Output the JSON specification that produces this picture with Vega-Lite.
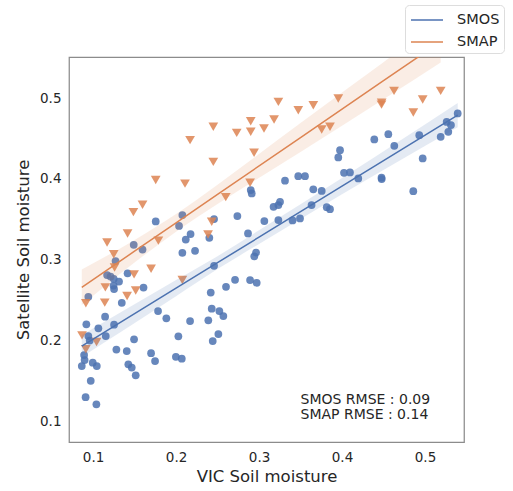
{
  "$schema": "https://vega.github.io/schema/vega-lite/v6.json",
  "width": 395,
  "height": 385,
  "autosize": {"type": "none"},
  "padding": {"left": 69, "top": 57, "right": 49, "bottom": 49},
  "title": {"text": "Camboida", "fontSize": 16, "fontWeight": "normal", "color": "#262626", "offset": 3, "font": "DejaVu Sans"},
  "datasets": {
    "pts": [
      {"s":"SMOS","x":0.0943,"y":0.2539},{"s":"SMOS","x":0.1247,"y":0.2678},{"s":"SMOS","x":0.1253,"y":0.2635},
      {"s":"SMOS","x":0.1346,"y":0.2465},{"s":"SMOS","x":0.1145,"y":0.2292},{"s":"SMOS","x":0.0919,"y":0.2198},
      {"s":"SMOS","x":0.1064,"y":0.2148},{"s":"SMOS","x":0.1253,"y":0.2193},{"s":"SMOS","x":0.1153,"y":0.2053},
      {"s":"SMOS","x":0.0943,"y":0.2053},{"s":"SMOS","x":0.0960,"y":0.1997},{"s":"SMOS","x":0.1494,"y":0.2012},
      {"s":"SMOS","x":0.1783,"y":0.2362},{"s":"SMOS","x":0.1883,"y":0.2272},{"s":"SMOS","x":0.2169,"y":0.2238},
      {"s":"SMOS","x":0.2028,"y":0.2050},{"s":"SMOS","x":0.1281,"y":0.1885},{"s":"SMOS","x":0.1406,"y":0.1867},
      {"s":"SMOS","x":0.1699,"y":0.1840},{"s":"SMOS","x":0.1747,"y":0.1743},{"s":"SMOS","x":0.1998,"y":0.1796},
      {"s":"SMOS","x":0.2069,"y":0.1772},{"s":"SMOS","x":0.0892,"y":0.1817},{"s":"SMOS","x":0.0898,"y":0.1755},
      {"s":"SMOS","x":0.0864,"y":0.1681},{"s":"SMOS","x":0.0996,"y":0.1722},{"s":"SMOS","x":0.1045,"y":0.1681},
      {"s":"SMOS","x":0.1425,"y":0.1703},{"s":"SMOS","x":0.1466,"y":0.1663},{"s":"SMOS","x":0.1514,"y":0.1566},
      {"s":"SMOS","x":0.0972,"y":0.1498},{"s":"SMOS","x":0.0910,"y":0.1295},{"s":"SMOS","x":0.1040,"y":0.1207},
      {"s":"SMOS","x":0.2418,"y":0.2591},{"s":"SMOS","x":0.2602,"y":0.2663},{"s":"SMOS","x":0.2711,"y":0.2750},
      {"s":"SMOS","x":0.2892,"y":0.2746},{"s":"SMOS","x":0.2972,"y":0.2713},{"s":"SMOS","x":0.2943,"y":0.3040},
      {"s":"SMOS","x":0.2964,"y":0.3087},{"s":"SMOS","x":0.2458,"y":0.2923},{"s":"SMOS","x":0.2430,"y":0.2391},
      {"s":"SMOS","x":0.2522,"y":0.2362},{"s":"SMOS","x":0.2570,"y":0.2300},{"s":"SMOS","x":0.2389,"y":0.2247},
      {"s":"SMOS","x":0.2510,"y":0.2077},{"s":"SMOS","x":0.2442,"y":0.1991},{"s":"SMOS","x":0.2229,"y":0.3109},
      {"s":"SMOS","x":0.2175,"y":0.3316},{"s":"SMOS","x":0.2117,"y":0.3248},{"s":"SMOS","x":0.2076,"y":0.3084},
      {"s":"SMOS","x":0.2036,"y":0.3417},{"s":"SMOS","x":0.2076,"y":0.3551},{"s":"SMOS","x":0.1755,"y":0.3473},
      {"s":"SMOS","x":0.1490,"y":0.3183},{"s":"SMOS","x":0.1596,"y":0.3124},{"s":"SMOS","x":0.1271,"y":0.2981},
      {"s":"SMOS","x":0.1169,"y":0.2808},{"s":"SMOS","x":0.1211,"y":0.2790},{"s":"SMOS","x":0.1249,"y":0.2762},
      {"s":"SMOS","x":0.1313,"y":0.2728},{"s":"SMOS","x":0.1416,"y":0.2830},{"s":"SMOS","x":0.1608,"y":0.2653},
      {"s":"SMOS","x":0.2458,"y":0.3502},{"s":"SMOS","x":0.2739,"y":0.3539},{"s":"SMOS","x":0.2900,"y":0.3861},
      {"s":"SMOS","x":0.2912,"y":0.3820},{"s":"SMOS","x":0.2867,"y":0.3324},{"s":"SMOS","x":0.2401,"y":0.3270},
      {"s":"SMOS","x":0.3064,"y":0.3477},{"s":"SMOS","x":0.3233,"y":0.3489},{"s":"SMOS","x":0.3404,"y":0.3485},
      {"s":"SMOS","x":0.3494,"y":0.3510},{"s":"SMOS","x":0.3175,"y":0.3654},{"s":"SMOS","x":0.3233,"y":0.3675},
      {"s":"SMOS","x":0.3253,"y":0.3716},{"s":"SMOS","x":0.3313,"y":0.3978},{"s":"SMOS","x":0.3473,"y":0.4034},
      {"s":"SMOS","x":0.3554,"y":0.4034},{"s":"SMOS","x":0.3654,"y":0.3871},{"s":"SMOS","x":0.3755,"y":0.3851},
      {"s":"SMOS","x":0.3633,"y":0.3675},{"s":"SMOS","x":0.3816,"y":0.3650},{"s":"SMOS","x":0.3855,"y":0.3625},
      {"s":"SMOS","x":0.4024,"y":0.4075},{"s":"SMOS","x":0.4096,"y":0.4080},{"s":"SMOS","x":0.4196,"y":0.4006},
      {"s":"SMOS","x":0.4476,"y":0.4015},{"s":"SMOS","x":0.4478,"y":0.3997},{"s":"SMOS","x":0.3976,"y":0.4356},
      {"s":"SMOS","x":0.3955,"y":0.4266},{"s":"SMOS","x":0.4389,"y":0.4489},{"s":"SMOS","x":0.4558,"y":0.4554},
      {"s":"SMOS","x":0.4630,"y":0.4409},{"s":"SMOS","x":0.4931,"y":0.4542},{"s":"SMOS","x":0.4972,"y":0.4253},
      {"s":"SMOS","x":0.4859,"y":0.3848},{"s":"SMOS","x":0.5189,"y":0.4521},{"s":"SMOS","x":0.5281,"y":0.4583},
      {"s":"SMOS","x":0.5261,"y":0.4706},{"s":"SMOS","x":0.5313,"y":0.4666},{"s":"SMOS","x":0.5394,"y":0.4811},
      {"s":"SMAP","x":0.1755,"y":0.3985},{"s":"SMAP","x":0.2108,"y":0.3941},{"s":"SMAP","x":0.1596,"y":0.3679},
      {"s":"SMAP","x":0.1486,"y":0.3588},{"s":"SMAP","x":0.1416,"y":0.3324},{"s":"SMAP","x":0.1169,"y":0.3211},
      {"s":"SMAP","x":0.1249,"y":0.3066},{"s":"SMAP","x":0.1259,"y":0.2901},{"s":"SMAP","x":0.1494,"y":0.2817},
      {"s":"SMAP","x":0.1699,"y":0.2886},{"s":"SMAP","x":0.1787,"y":0.3235},{"s":"SMAP","x":0.1148,"y":0.2656},
      {"s":"SMAP","x":0.1410,"y":0.2550},{"s":"SMAP","x":0.1514,"y":0.2616},{"s":"SMAP","x":0.0913,"y":0.2458},
      {"s":"SMAP","x":0.1141,"y":0.2467},{"s":"SMAP","x":0.0867,"y":0.2061},{"s":"SMAP","x":0.1042,"y":0.1978},
      {"s":"SMAP","x":0.0913,"y":0.1889},{"s":"SMAP","x":0.2076,"y":0.2746},{"s":"SMAP","x":0.2169,"y":0.4480},
      {"s":"SMAP","x":0.2449,"y":0.4645},{"s":"SMAP","x":0.2449,"y":0.4211},{"s":"SMAP","x":0.2731,"y":0.4570},
      {"s":"SMAP","x":0.2900,"y":0.4715},{"s":"SMAP","x":0.2900,"y":0.4583},{"s":"SMAP","x":0.2940,"y":0.4323},
      {"s":"SMAP","x":0.2892,"y":0.3951},{"s":"SMAP","x":0.2599,"y":0.3774},{"s":"SMAP","x":0.2430,"y":0.3468},
      {"s":"SMAP","x":0.2386,"y":0.3310},{"s":"SMAP","x":0.3060,"y":0.4625},{"s":"SMAP","x":0.3181,"y":0.4736},
      {"s":"SMAP","x":0.3233,"y":0.4954},{"s":"SMAP","x":0.3473,"y":0.4851},{"s":"SMAP","x":0.3654,"y":0.4913},
      {"s":"SMAP","x":0.3955,"y":0.4996},{"s":"SMAP","x":0.3755,"y":0.4612},{"s":"SMAP","x":0.3855,"y":0.4645},
      {"s":"SMAP","x":0.4478,"y":0.4942},{"s":"SMAP","x":0.4476,"y":0.4920},{"s":"SMAP","x":0.4627,"y":0.5090},
      {"s":"SMAP","x":0.4972,"y":0.4984},{"s":"SMAP","x":0.4859,"y":0.4823},{"s":"SMAP","x":0.5189,"y":0.5090}
    ],
    "fit": [
      {"s":"SMOS","x":0.0864,"y":0.1929,"lo":0.1793,"hi":0.2065},
      {"s":"SMOS","x":0.2,"y":0.2646,"lo":0.2546,"hi":0.2746},
      {"s":"SMOS","x":0.25,"y":0.2962,"lo":0.2882,"hi":0.3042},
      {"s":"SMOS","x":0.3,"y":0.3278,"lo":0.3193,"hi":0.3363},
      {"s":"SMOS","x":0.4,"y":0.3910,"lo":0.3810,"hi":0.4010},
      {"s":"SMOS","x":0.5394,"y":0.4790,"lo":0.4640,"hi":0.4940},
      {"s":"SMAP","x":0.0864,"y":0.2656,"lo":0.2436,"hi":0.2876},
      {"s":"SMAP","x":0.15,"y":0.3104,"lo":0.2964,"hi":0.3244},
      {"s":"SMAP","x":0.2,"y":0.3456,"lo":0.3346,"hi":0.3566},
      {"s":"SMAP","x":0.25,"y":0.3808,"lo":0.3688,"hi":0.3928},
      {"s":"SMAP","x":0.35,"y":0.4512,"lo":0.4332,"hi":0.4692},
      {"s":"SMAP","x":0.45,"y":0.5216,"lo":0.4986,"hi":0.5446},
      {"s":"SMAP","x":0.5189,"y":0.5701,"lo":0.5441,"hi":0.5961}
    ],
    "notes": [
      {"x":0.35,"y":0.126,"t":"SMOS RMSE : 0.09"},
      {"x":0.35,"y":0.1074,"t":"SMAP RMSE : 0.14"}
    ]
  },
  "encoding": {
    "x": {"field": "x", "type": "quantitative", "scale": {"domain": [0.071, 0.547], "nice": false, "zero": false},
          "axis": {"title": "VIC Soil moisture", "values": [0.1, 0.2, 0.3, 0.4, 0.5], "format": ".1f"}},
    "y": {"field": "y", "type": "quantitative", "scale": {"domain": [0.074, 0.551], "nice": false, "zero": false},
          "axis": {"title": "Satellite Soil moisture", "values": [0.1, 0.2, 0.3, 0.4, 0.5], "format": ".1f"}}
  },
  "layer": [
    {
      "data": {"name": "pts"},
      "mark": {"type": "point", "filled": true, "opacity": 0.85, "strokeWidth": 0},
      "encoding": {
        "color": {"field": "s", "type": "nominal", "scale": {"domain": ["SMOS", "SMAP"], "range": ["#4C72B0", "#DD8452"]}, "legend": null},
        "shape": {"field": "s", "type": "nominal", "scale": {"domain": ["SMOS", "SMAP"], "range": ["circle", "triangle-down"]}, "legend": null},
        "size": {"field": "s", "type": "nominal", "scale": {"domain": ["SMOS", "SMAP"], "range": [60, 95]}, "legend": null}
      }
    },
    {
      "data": {"name": "fit"},
      "mark": {"type": "area", "opacity": 0.15, "clip": true, "interpolate": "monotone"},
      "encoding": {
        "y": {"field": "lo", "type": "quantitative"},
        "y2": {"field": "hi"},
        "color": {"field": "s", "type": "nominal", "legend": null}
      }
    },
    {
      "data": {"name": "fit"},
      "mark": {"type": "line", "strokeWidth": 1.5, "clip": true},
      "encoding": {
        "color": {"field": "s", "type": "nominal",
          "legend": {"title": null, "orient": "none", "legendX": 336, "legendY": -52,
            "symbolType": "M-0.9,0H2.3", "symbolSize": 400, "symbolStrokeWidth": 1.5,
            "labelFontSize": 14.5, "labelOffset": 26, "labelColor": "#262626", "padding": 4,
            "rowPadding": 4, "strokeColor": "#dddddd", "fillColor": "white", "cornerRadius": 4}}
      }
    },
    {
      "data": {"name": "notes"},
      "mark": {"type": "text", "align": "left", "baseline": "middle", "fontSize": 14, "color": "#262626"},
      "encoding": {"text": {"field": "t", "type": "nominal"}}
    }
  ],
  "resolve": {"legend": {"color": "independent"}},
  "config": {
    "font": "DejaVu Sans",
    "view": {"stroke": "#8c8c8c", "strokeWidth": 1.25},
    "axis": {"domain": false, "ticks": false, "tickSize": 0, "grid": false, "labelFontSize": 13.5, "titleFontSize": 16.5,
             "titleFontWeight": "normal", "labelColor": "#262626", "titleColor": "#262626", "labelPadding": 8},
    "axisX": {"titlePadding": 5},
    "axisY": {"titlePadding": 8}
  }
}
